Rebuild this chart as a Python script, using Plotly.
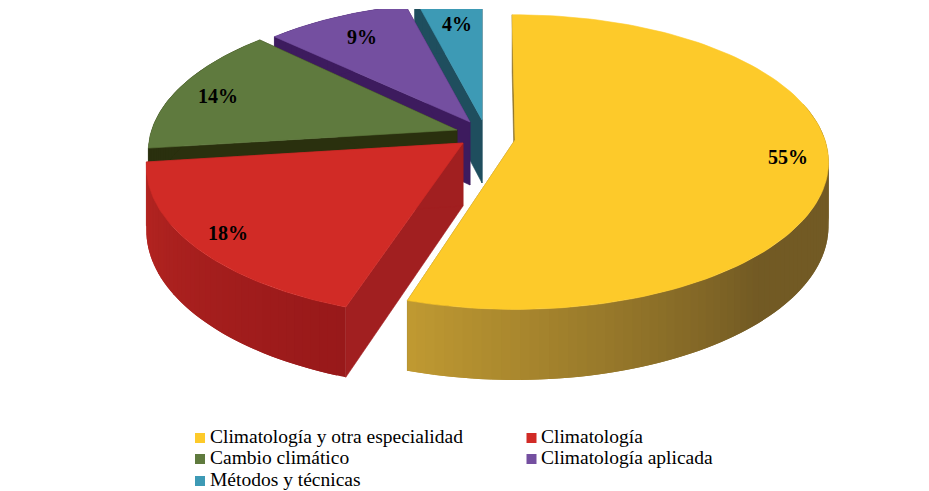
import numpy as np
import plotly.graph_objects as go

# --- data ---
categories = ["Climatología y otra especialidad", "Climatología", "Cambio climático",
              "Climatología aplicada", "Métodos y técnicas"]
values = [55, 18, 14, 9, 4]

# --- styles ---
top_colors = ["#FDCA2A", "#D12B26", "#5F7A3E", "#744FA0", "#3D9AB5"]
cut_colors = ["#8A6E25", "#A11F20", "#2A300E", "#3D1B5E", "#1F4E5E"]
arc_near_rgb = [(192, 154, 50), (152, 25, 26), (42, 48, 14), (61, 27, 94), (31, 78, 94)]
arc_far_rgb = [(114, 90, 36), (182, 38, 34), (42, 48, 14), (61, 27, 94), (31, 78, 94)]

# --- layout geometry (px) ---
W, H = 929, 491
apex_x = [515, 463, 457, 470, 482]
apex_y = [140, 143, 130, 122, 120]
radius_scale = [1.0, 1.01, 0.985, 0.95, 1.0]
tilt_scale = [1.0, 1.02, 1.0, 1.0, 1.0]
start_nudge = [-0.6, 0.7, 0.0, 0.0, 0.0]
end_nudge = [-0.7, 0.0, 1.3, 0.0, 0.0]
A, B, K = 310, 144, 0.15
DEPTH = 63

label_x = [788, 228, 218, 362, 457]
label_y = [159, 235, 98, 39, 26]
swatch_x = [200, 531.5, 200, 531.5, 200]
text_x = [210, 541, 210, 541, 210]
legend_y = [438, 438, 459, 459, 481]


def project(theta_deg, r, tilt, ax, ay):
    t = np.radians(theta_deg)
    s = 1 / (1 + K * r * np.cos(t))
    return ax + A * r * np.sin(t) * s, ay - B * r * tilt * np.cos(t) * s, s


def depth_at(s):
    return DEPTH * s ** 0.7


def poly(fig, x, y, color, width=0.6):
    fig.add_trace(go.Scatter(x=x, y=y, mode="lines", fill="toself", fillcolor=color,
                             line=dict(color=color, width=width), hoverinfo="skip",
                             showlegend=False))


fig = go.Figure()
bounds = np.concatenate([[0], np.cumsum(values)]) / sum(values) * 360

# far slices first: the last category is at the back
for i in reversed(range(len(values))):
    t0, t1 = bounds[i] + start_nudge[i], bounds[i + 1] + end_nudge[i]
    ax, ay, rs, ts = apex_x[i], apex_y[i], radius_scale[i], tilt_scale[i]

    # radial cut walls
    for th in (t0, t1):
        px, py, ps = project(th, rs, ts, ax, ay)
        poly(fig, [ax, px, px, ax, ax],
             [ay, py, py + depth_at(ps), ay + DEPTH, ay], cut_colors[i])

    # outer wall: shaded strips painted from the far side, each overlapping the next
    edges = np.linspace(t0, t1, max(3, int((t1 - t0) / 1.5)) + 1)
    step = edges[1] - edges[0]
    for a in edges[:-1]:
        b = min(a + 2 * step, t1)
        mid = a + step / 2
        if mid < 75:
            continue
        if i == 0:
            f = np.clip((t1 - mid) / 62, 0, 1)
            c0, c1 = arc_near_rgb[i], arc_far_rgb[i]
        else:
            f = np.clip((t1 - mid) / (t1 - t0), 0, 1)
            c0, c1 = arc_far_rgb[i], arc_near_rgb[i]
        rgb = [int(u + (v - u) * f) for u, v in zip(c0, c1)]
        col = f"rgb({rgb[0]},{rgb[1]},{rgb[2]})"
        th = np.linspace(a, b, 4)
        xs, ys, ss = project(th, rs, ts, ax, ay)
        poly(fig, np.r_[xs, xs[::-1], xs[0]],
             np.r_[ys, (ys + depth_at(ss))[::-1], ys[0]], col, width=0)

    # top face
    th = np.linspace(t0, t1, 120)
    ex, ey, _ = project(th, rs, ts, ax, ay)
    poly(fig, np.r_[ax, ex, ax], np.r_[ay, ey, ay], top_colors[i])

# percentage labels
fig.add_trace(go.Scatter(x=label_x, y=label_y, mode="text",
                         text=[f"{v}%" for v in values],
                         textfont=dict(family="Liberation Serif", size=20, color="black",
                                       weight="bold"),
                         hoverinfo="skip", showlegend=False))

# legend
fig.add_trace(go.Scatter(x=swatch_x, y=legend_y, mode="markers",
                         marker=dict(symbol="square", size=10, color=top_colors),
                         hoverinfo="skip", showlegend=False))
fig.add_trace(go.Scatter(x=text_x, y=legend_y, mode="text",
                         text=categories, textposition="middle right",
                         textfont=dict(family="Liberation Serif", size=19.5, color="black"),
                         hoverinfo="skip", showlegend=False))

fig.update_layout(width=W, height=H, margin=dict(l=0, r=0, t=9, b=0),
                  paper_bgcolor="white", plot_bgcolor="white", showlegend=False,
                  xaxis=dict(range=[0, W], visible=False, fixedrange=True),
                  yaxis=dict(range=[H, 9], visible=False, fixedrange=True))

fig.write_html("out.html", config={"displayModeBar": False},
               post_script="document.body.style.margin='0';document.body.style.overflow='hidden';")
